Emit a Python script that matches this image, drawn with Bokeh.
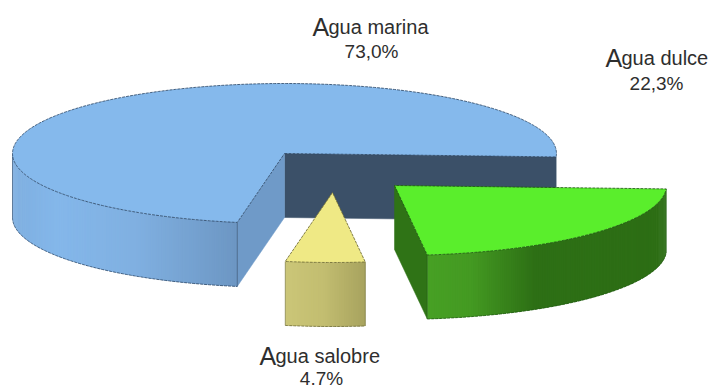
import numpy as np
from bokeh.core.properties import value
from bokeh.embed import file_html
from bokeh.plotting import figure
from bokeh.resources import INLINE

# Global water distribution
names = ["Agua marina", "Agua salobre", "Agua dulce"]
shares = [73.0, 4.7, 22.3]
share_labels = ["73,0%", "4.7%", "22,3%"]

# Pie geometry, in page pixels
CENTER = (284.0, 153.0)
RX, RY = 272.0, 70.0
DEPTH = 64.0
START_DEG = -2.8
offsets = [(0.0, 0.0), (48.0, 39.0), (110.0, 32.0)]

top_colors = ["#85b9ec", "#efe985", "#5aee2c"]
edge_colors = ["#2f4a68", "#6d6a34", "#1f5a10"]
# colour of the face along the slice's end radius and along its start radius
end_cut = ["#6f9ac8", None, None]
start_cut = ["#3b5068", None, "#2f7316"]
wall_stops = [
    [(0.0, "#7fafe0"), (0.2, "#84b7ea"), (0.55, "#80b0e1"), (1.0, "#6d97c4")],
    [(0.0, "#cbc678"), (0.5, "#c2bd70"), (1.0, "#a9a460")],
    [(0.0, "#47a024"), (0.18, "#449a22"), (0.45, "#2d6f15"), (1.0, "#2d6e15")],
]
orders = [0, 1, 2]

p = figure(width=713, height=389, x_range=(0, 713), y_range=(389, 0),
           output_backend="svg", toolbar_location=None, min_border=0,
           outline_line_color=None, background_fill_color="white")
p.axis.visible = False
p.grid.visible = False


def rgb(h):
    return np.array([int(h[i:i + 2], 16) for i in (1, 3, 5)], dtype=float)


def ramp(t, stops):
    pos = [s[0] for s in stops]
    cols = np.array([rgb(s[1]) for s in stops])
    c = [np.interp(t, pos, cols[:, k]) for k in range(3)]
    return "#%02x%02x%02x" % tuple(int(round(v)) for v in c)


def rim(cx, cy, deg):
    a = np.radians(deg)
    return cx + RX * np.cos(a), cy - RY * np.sin(a)


def draw_slice(a0, a1, off, top, edge, cut_a, cut_b, stops):
    cx, cy = CENTER[0] + off[0], CENTER[1] + off[1]
    sx, sy = rim(cx, cy, a0)
    ex, ey = rim(cx, cy, a1)

    # faces exposed by the cut, behind the outer wall
    if cut_b:
        p.patch([cx, sx, sx, cx], [cy, sy, sy + DEPTH, cy + DEPTH],
                fill_color=cut_b, line_color=cut_b, line_width=0.5)
    if cut_a:
        p.patch([cx, ex, ex, cx], [cy, ey, ey + DEPTH, cy + DEPTH],
                fill_color=cut_a, line_color=cut_a, line_width=0.5)

    # outer wall, split in narrow strips to shade it from side to side;
    # a slice that wraps past 0 degrees only shows the part left of its centre
    deg = np.linspace(a0, a1, int(abs(a1 - a0) * 2) + 2)
    px, py = rim(cx, cy, deg)
    front = np.sin(np.radians(deg)) < 0.002
    if a0 < 0 and a1 > 180:
        front &= px < cx
    idx = np.flatnonzero(front[:-1] & front[1:])
    x_lo, x_hi = px[idx].min(), px[idx].max() + 1e-6
    xs, ys, fills = [], [], []
    for i in idx:
        # each strip runs under the next one so no seams show between them
        j = min(i + 2, len(deg) - 1)
        xs.append([px[i], px[j], px[j], px[i]])
        ys.append([py[i], py[j], py[j] + DEPTH, py[i] + DEPTH])
        fills.append(ramp((0.5 * (px[i] + px[i + 1]) - x_lo) / (x_hi - x_lo), stops))
    p.patches(xs, ys, fill_color=fills, line_color=None)

    # wall outline
    run = np.append(idx, idx[-1] + 1)
    p.line(px[run], py[run] + DEPTH, line_color=edge, line_width=1,
           line_dash="3 1", line_alpha=0.8)
    for k in (run[0], run[-1]):
        p.line([px[k], px[k]], [py[k], py[k] + DEPTH], line_color=edge,
               line_width=1, line_alpha=0.6)

    # top face
    tx = np.concatenate([[cx], px, [cx]])
    ty = np.concatenate([[cy], py, [cy]])
    p.patch(tx, ty, fill_color=top, line_color=edge, line_width=1,
            line_dash="3 1", line_alpha=0.85)


angle = START_DEG
for i in orders:
    sweep = shares[i] * 3.6
    draw_slice(angle, angle + sweep, offsets[i], top_colors[i], edge_colors[i],
               end_cut[i], start_cut[i], wall_stops[i])
    angle += sweep

# Labels: a larger initial followed by the rest of the name, then the share
name_pos = [(312.0, 26.0), (259.0, 355.0), (605.0, 57.0)]
share_pos = [(371.0, 51.0), (321.0, 378.0), (656.0, 83.0)]
FONT = value("Liberation Sans")
INK = "#2e2e2e"
for i in orders:
    x, y = name_pos[i]
    p.text([x], [y], text=[names[i][0]], text_font=FONT, text_font_size="25px",
           text_color=INK, text_align="left", text_baseline="alphabetic")
    p.text([x + 16.0], [y], text=[names[i][1:]], text_font=FONT,
           text_font_size="20px", text_color=INK, text_align="left",
           text_baseline="alphabetic")
    sx, sy = share_pos[i]
    p.text([sx], [sy], text=[share_labels[i]], text_font=FONT, text_font_size="19px",
           text_color=INK, text_align="center", text_baseline="alphabetic")

open("out.html", "w").write(file_html(p, INLINE))
